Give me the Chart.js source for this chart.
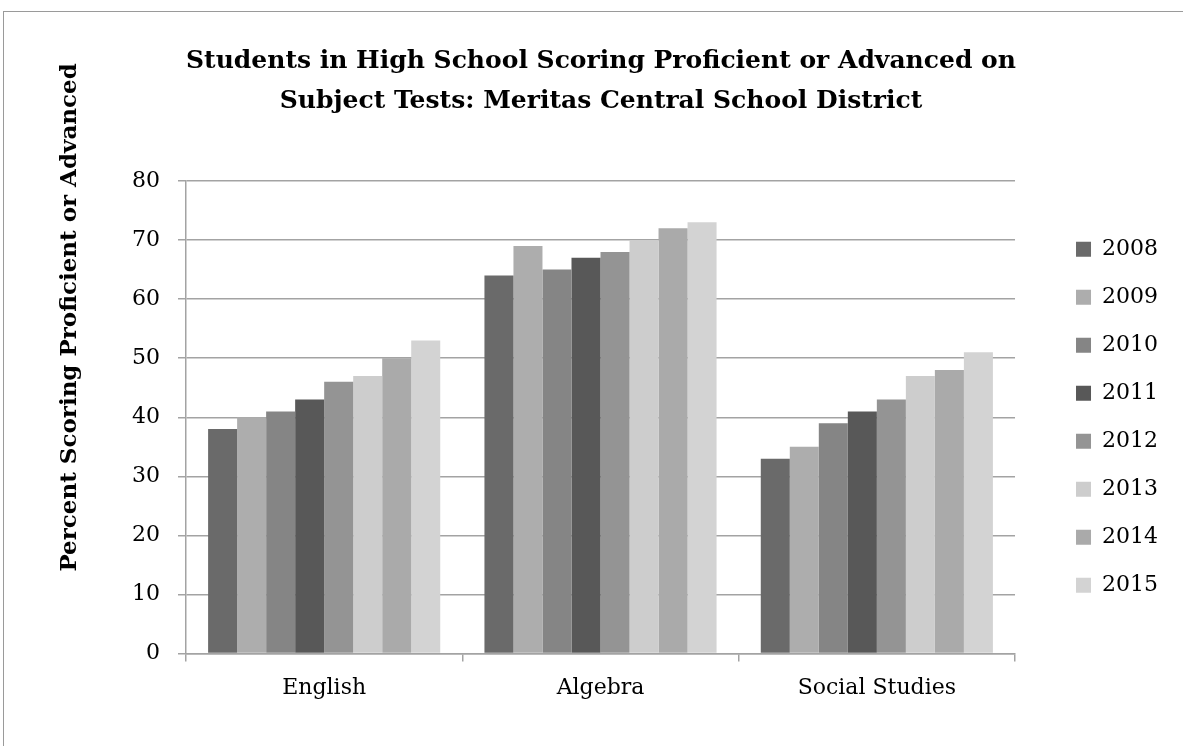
<!DOCTYPE html>
<html>
<head>
<meta charset="utf-8">
<script src="https://cdn.jsdelivr.net/npm/chart.js@4.4.1/dist/chart.umd.min.js"></script>
<style>
  html, body { margin: 0; padding: 0; background: #fff; overflow: hidden; }
  #frame {
    position: absolute; left: 3px; top: 11px; width: 1400px; height: 900px;
    border-top: 1.5px solid #9a9a9a; border-left: 1.5px solid #9a9a9a;
  }
  #wrap { position: absolute; left: 0; top: 0; width: 1183px; height: 746px; }
</style>
</head>
<body>
<div id="frame"></div>
<div id="wrap"><canvas id="c" width="1183" height="746"></canvas></div>
<script>
// Subjects on the x axis and the school years shown as series
const subjects = ['English', 'Algebra', 'Social Studies'];
const years = ['2008', '2009', '2010', '2011', '2012', '2013', '2014', '2015'];

// Percent of students scoring proficient or advanced, per year: [English, Algebra, Social Studies]
const pct2008 = [38, 64, 33];
const pct2009 = [40, 69, 35];
const pct2010 = [41, 65, 39];
const pct2011 = [43, 67, 41];
const pct2012 = [46, 68, 43];
const pct2013 = [47, 70, 47];
const pct2014 = [50, 72, 48];
const pct2015 = [53, 73, 51];

// Value axis ticks
const yTicks = [0, 10, 20, 30, 40, 50, 60, 70, 80];

const titleLines = [
  'Students in High School Scoring Proficient or Advanced on',
  'Subject Tests: Meritas Central School District'
];
const yTitle = 'Percent Scoring Proficient or Advanced';

const seriesValues = [pct2008, pct2009, pct2010, pct2011, pct2012, pct2013, pct2014, pct2015];
const yearColors = ['#6a6a6a', '#adadad', '#858585', '#585858', '#949494', '#cdcdcd', '#aaaaaa', '#d3d3d3'];

const gridColor = '#a3a3a3';
const serif = '"DejaVu Serif", serif';

// Rotated value-axis title, drawn in the space left of the tick labels
const yAxisTitle = {
  id: 'yAxisTitle',
  afterDraw(chart) {
    const { ctx, chartArea } = chart;
    ctx.save();
    ctx.translate(chartArea.left - 116, chartArea.bottom - 82);
    ctx.rotate(-Math.PI / 2);
    ctx.font = 'bold 23px ' + serif;
    ctx.fillStyle = '#000';
    ctx.textAlign = 'left';
    ctx.textBaseline = 'middle';
    ctx.fillText(yTitle, 0, 0);
    ctx.restore();
  }
};

Chart.defaults.font.family = serif;
Chart.defaults.color = '#000';

new Chart(document.getElementById('c'), {
  type: 'bar',
  data: {
    labels: subjects,
    datasets: years.map((y, i) => ({
      label: y,
      data: seriesValues[i],
      backgroundColor: yearColors[i],
      borderWidth: 0,
      categoryPercentage: 0.84,
      barPercentage: 1.0
    }))
  },
  options: {
    responsive: false,
    animation: false,
    devicePixelRatio: 1,
    layout: { padding: { left: 34, right: 15, top: 0, bottom: 32 } },
    plugins: {
      title: {
        display: true,
        text: titleLines,
        color: '#000',
        font: { family: serif, size: 25, weight: 'bold', lineHeight: '40px' },
        padding: { top: 41, bottom: 60 }
      },
      legend: {
        position: 'right',
        fullSize: false,
        align: 'center',
        labels: {
          boxWidth: 15,
          boxHeight: 15,
          padding: 26,
          color: '#000',
          font: { family: serif, size: 22 }
        }
      },
      tooltip: { enabled: false }
    },
    scales: {
      x: {
        grid: {
          offset: true,
          drawOnChartArea: false,
          color: gridColor,
          lineWidth: 1.5,
          tickLength: 8
        },
        border: { color: gridColor, width: 1.5 },
        ticks: { padding: 13, font: { family: serif, size: 22 }, color: '#000' }
      },
      y: {
        min: yTicks[0],
        max: yTicks[yTicks.length - 1],
        ticks: {
          stepSize: yTicks[1] - yTicks[0],
          padding: 18,
          font: { family: serif, size: 22 },
          color: '#000'
        },
        grid: { color: gridColor, lineWidth: 1.5, tickLength: 8 },
        border: { color: gridColor, width: 1.5 },
        afterFit(scale) { scale.width = 152; }
      },
      gap: {
        type: 'linear',
        position: 'right',
        display: true,
        grid: { display: false },
        ticks: { display: false },
        border: { display: false },
        afterFit(scale) { scale.width = 35; }
      }
    }
  },
  plugins: [yAxisTitle]
});
</script>
</body>
</html>
